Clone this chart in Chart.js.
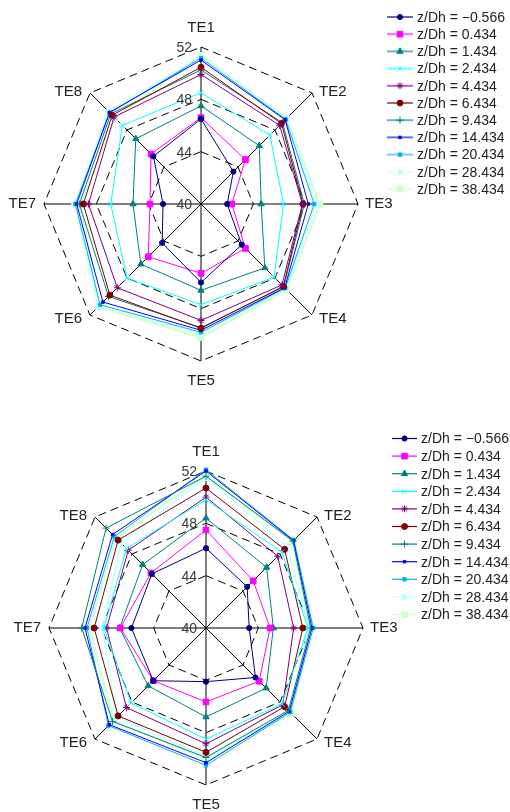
<!DOCTYPE html>
<html>
<head>
<meta charset="utf-8">
<script src="https://cdn.jsdelivr.net/npm/chart.js@4.4.1/dist/chart.umd.min.js"></script>
<style>
  html, body { margin: 0; padding: 0; background: #fff; }
  #wrap { position: relative; width: 510px; height: 812px; overflow: hidden; }
  canvas { position: absolute; left: 0; }
</style>
</head>
<body>
<div id="wrap">
  <canvas id="chartTop" width="510" height="420" style="top:0"></canvas>
  <canvas id="chartBottom" width="510" height="392" style="top:420px"></canvas>
</div>
<script>
// Radar axes and radial ticks
const axisLabels = ['TE1', 'TE2', 'TE3', 'TE4', 'TE5', 'TE6', 'TE7', 'TE8'];
const tickValues = [40, 44, 48, 52];

// Series (one per z/Dh position)
const seriesNames = [
  'z/Dh = \u22120.566', 'z/Dh = 0.434', 'z/Dh = 1.434', 'z/Dh = 2.434',
  'z/Dh = 4.434', 'z/Dh = 6.434', 'z/Dh = 9.434', 'z/Dh = 14.434',
  'z/Dh = 20.434', 'z/Dh = 28.434', 'z/Dh = 38.434'
];
const seriesColors = [
  '#000080', '#ff00ff', '#008080', '#00ffff', '#800080', '#800000',
  '#008080', '#0000ff', '#00b0f0', '#c4ffff', '#ccffcc'
];
const markerStyles = [
  'circle', 'rect', 'triangle', 'crossRot', 'star', 'circle',
  'cross', 'rect', 'rect', 'rectRot', 'rect'
];
const markerSizes = [2.6, 4, 3.6, 3.5, 3.5, 3, 3.5, 1.8, 2.4, 3.6, 4];
const lineWidths = [1, 1, 1, 1, 1, 1, 1, 1, 1, 1.6, 1.8];

// Upper chart values, TE1..TE8
const upperM0566 = [46.5, 43.5, 42.0, 44.4, 46.0, 44.2, 42.9, 45.15];
const upper0434  = [46.6, 44.8, 42.35, 44.8, 45.3, 45.7, 43.9, 45.4];
const upper1434  = [47.5, 46.3, 44.6, 46.9, 46.6, 46.5, 45.2, 47.05];
const upper2434  = [48.5, 47.45, 46.3, 47.9, 47.7, 48.0, 46.9, 48.5];
const upper4434  = [49.9, 48.5, 47.75, 48.75, 48.9, 49.05, 48.6, 49.4];
const upper6434  = [50.45, 48.7, 47.8, 48.9, 49.5, 49.85, 49.0, 49.6];
const upper9434  = [50.25, 48.8, 47.9, 48.95, 49.45, 50.0, 49.3, 49.75];
const upper14434 = [51.0, 49.1, 48.2, 49.05, 49.65, 50.6, 49.5, 49.9];
const upper20434 = [51.15, 49.15, 48.65, 49.1, 49.8, 50.9, 49.6, 49.85];
const upper28434 = [51.3, 49.25, 48.8, 49.15, 49.9, 51.1, 49.65, 50.0];
const upper38434 = [51.35, 49.25, 49.1, 49.25, 50.2, 51.1, 49.2, 49.3];

// Lower chart values, TE1..TE8
const lowerM0566 = [46.1, 44.45, 43.3, 45.35, 44.1, 45.7, 45.7, 45.85];
const lower0434  = [47.5, 45.1, 44.9, 45.75, 45.65, 45.7, 46.55, 45.95];
const lower1434  = [48.4, 46.55, 45.15, 46.5, 46.8, 46.25, 46.6, 46.85];
const lower2434  = [49.8, 48.2, 47.8, 48.2, 48.5, 48.1, 47.8, 48.6];
const lower4434  = [50.0, 47.75, 46.7, 48.3, 48.85, 48.6, 47.6, 48.4];
const lower6434  = [50.7, 48.5, 47.4, 48.5, 49.5, 49.5, 48.55, 49.5];
const lower9434  = [51.6, 49.4, 48.0, 48.9, 49.9, 50.1, 49.5, 50.8];
const lower14434 = [52.0, 49.45, 48.1, 49.0, 50.3, 50.45, 49.25, 50.1];
const lower20434 = [52.1, 49.5, 48.2, 49.1, 50.5, 50.55, 49.1, 49.9];
const lower28434 = [51.5, 48.8, 47.85, 49.1, 49.8, 49.65, 47.9, 49.2];
const lower38434 = [51.65, 49.35, 47.95, 49.25, 50.05, 50.0, 48.9, 49.75];

const upperSeries = [upperM0566, upper0434, upper1434, upper2434, upper4434, upper6434,
  upper9434, upper14434, upper20434, upper28434, upper38434];
const lowerSeries = [lowerM0566, lower0434, lower1434, lower2434, lower4434, lower6434,
  lower9434, lower14434, lower20434, lower28434, lower38434];

const FONT = '"Liberation Sans", Arial, Helvetica, sans-serif';

// Draws tick values, axis names and the legend on top of the radar
const radarDecor = {
  id: 'radarDecor',
  afterDraw(chart, args, opts) {
    const ctx = chart.ctx;
    const r = chart.scales.r;
    ctx.save();

    // tick values, left of the TE1 axis
    ctx.font = '14px ' + FONT;
    ctx.fillStyle = '#3a3a3a';
    ctx.textAlign = 'right';
    ctx.textBaseline = 'middle';
    tickValues.forEach(v => {
      const d = r.getDistanceFromCenterForValue(v);
      ctx.fillText(String(v), r.xCenter - 9, r.yCenter - d + 1);
    });

    // axis names
    ctx.font = '15px ' + FONT;
    ctx.fillStyle = '#222';
    const n = axisLabels.length;
    axisLabels.forEach((lab, i) => {
      const p = r.getPointPosition(i, r.drawingArea);
      const sx = Math.round(Math.sin(i * 2 * Math.PI / n) * 100) / 100;
      const cy = Math.round(-Math.cos(i * 2 * Math.PI / n) * 100) / 100;
      let x = p.x, y = p.y;
      if (sx === 0) {
        ctx.textAlign = 'center';
        y += cy < 0 ? -19 : 20;
      } else {
        ctx.textAlign = sx > 0 ? 'left' : 'right';
        x += sx > 0 ? 7 : -8;
        if (cy < 0) y -= 1.5;
        else if (cy > 0) y += 4;
      }
      ctx.fillText(lab, x, y);
    });

    // legend
    ctx.font = '14px ' + FONT;
    ctx.textAlign = 'left';
    chart.data.datasets.forEach((ds, i) => {
      const y = opts.y0 + i * opts.step;
      ctx.globalAlpha = opts.lineAlpha;
      ctx.strokeStyle = ds.borderColor;
      ctx.lineWidth = opts.lineWidth;
      ctx.beginPath();
      ctx.moveTo(opts.x1, y);
      ctx.lineTo(opts.x2, y);
      ctx.stroke();
      ctx.globalAlpha = 1;
      ctx.fillStyle = ds.pointBackgroundColor;
      ctx.strokeStyle = ds.pointBorderColor;
      ctx.lineWidth = 1;
      Chart.helpers.drawPoint(ctx, {
        pointStyle: ds.pointStyle, radius: ds.pointRadius, rotation: 0, borderWidth: 1
      }, (opts.x1 + opts.x2) / 2, y);
      ctx.fillStyle = '#222';
      ctx.fillText(ds.label, opts.tx, y + 1);
    });
    ctx.restore();
  }
};

function buildDatasets(values) {
  return values.map((vals, i) => ({
    label: seriesNames[i],
    data: vals,
    borderColor: seriesColors[i],
    backgroundColor: seriesColors[i],
    pointBackgroundColor: seriesColors[i],
    pointBorderColor: seriesColors[i],
    pointStyle: markerStyles[i],
    pointRadius: markerSizes[i],
    pointBorderWidth: 1,
    borderWidth: lineWidths[i],
    fill: false,
    tension: 0,
    clip: false
  }));
}

function makeRadar(id, values, padding, legend) {
  return new Chart(document.getElementById(id), {
    type: 'radar',
    data: { labels: axisLabels, datasets: buildDatasets(values) },
    options: {
      responsive: false,
      animation: false,
      devicePixelRatio: 1,
      layout: { padding: padding },
      plugins: {
        legend: { display: false },
        tooltip: { enabled: false },
        radarDecor: legend
      },
      scales: {
        r: {
          min: 40,
          max: 52,
          ticks: { stepSize: 4, display: false },
          pointLabels: { display: false },
          grid: { color: '#000', lineWidth: 1, borderDash: [8, 5] },
          border: { dash: [8, 5] },
          angleLines: { color: '#000', lineWidth: 1 }
        }
      }
    },
    plugins: [radarDecor]
  });
}

makeRadar('chartTop', upperSeries,
  { left: 44, top: 47, right: 152, bottom: 59 },
  { x1: 387, x2: 413, tx: 417, y0: 17, step: 17.2, lineAlpha: 0.6, lineWidth: 2 });

makeRadar('chartBottom', lowerSeries,
  { left: 49, top: 51, right: 147, bottom: 27 },
  { x1: 392, x2: 417, tx: 421, y0: 18.5, step: 17.6, lineAlpha: 1, lineWidth: 1.2 });
</script>
</body>
</html>
